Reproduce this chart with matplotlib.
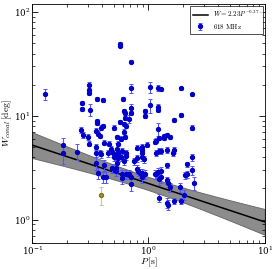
import numpy as np
import matplotlib
matplotlib.use("Agg")
import matplotlib.pyplot as plt

plt.rcParams['mathtext.fontset'] = 'cm'
plt.rcParams['font.family'] = 'serif'
plt.rcParams['font.serif'] = ['DejaVu Serif']

# Data (618 MHz)
period = [0.129, 0.270, 0.270, 0.310, 0.310, 0.310, 0.316, 0.363, 0.409, 0.574,
          0.574, 0.713, 0.713, 0.608, 1.04, 1.20, 1.29, 1.89, 2.39, 0.621,
          0.634, 0.713, 0.713, 0.925, 0.925, 1.04, 1.20, 1.20, 1.67, 1.89,
          2.39, 1.20, 0.509, 0.574, 0.621, 0.646, 0.621, 0.363, 0.363, 0.394,
          0.409, 0.356, 0.371, 0.264, 0.275, 0.304, 0.634, 0.686, 0.541, 0.585,
          0.634, 0.551, 0.461, 0.379, 0.418, 0.310, 0.356, 0.541, 0.789, 0.871,
          0.888, 0.979, 1.13, 1.17, 1.24, 1.35, 1.35, 1.43, 1.52, 1.43,
          1.67, 1.24, 1.29, 0.182, 0.182, 0.244, 0.356, 0.379, 0.394, 0.444,
          0.551, 0.646, 0.888, 1.17, 0.509, 0.530, 0.585, 0.646, 0.871, 0.906,
          0.356, 0.418, 0.541, 0.371, 0.409, 0.435, 1.43, 1.64, 2.13, 2.08,
          2.13, 2.39, 2.39, 2.44, 0.490, 0.530, 0.530, 0.597, 0.597, 0.646,
          0.686, 0.713, 0.789, 0.820, 0.853, 0.888, 0.925, 0.888, 1.13, 1.17,
          1.20, 1.27, 1.29, 1.22, 1.43, 1.46, 1.52, 1.85, 2.04, 1.24,
          1.43, 1.46, 1.67, 1.89, 0.713, 0.804, 0.757, 0.621, 0.551, 0.480,
          0.499, 0.597]
width = [16.2, 13.3, 11.7, 19.7, 17.7, 16.6, 11.4, 14.5, 14.2, 49.6,
         47.4, 33.4, 18.5, 14.5, 18.9, 18.5, 18.1, 18.5, 16.2, 11.2,
         10.7, 11.9, 10.7, 11.2, 10.0, 12.7, 12.2, 11.4, 9.16, 10.2,
         7.69, 7.52, 7.69, 8.77, 8.39, 8.03, 7.04, 8.96, 8.58, 7.69,
         8.03, 7.20, 6.74, 7.36, 6.59, 6.31, 9.57, 9.37, 6.31, 6.04,
         6.31, 5.41, 5.41, 6.45, 5.53, 5.41, 5.07, 4.85, 4.96, 5.07,
         4.74, 5.29, 5.65, 5.78, 6.17, 6.45, 6.17, 6.59, 6.31, 4.74,
         4.74, 4.64, 4.64, 5.29, 4.35, 4.54, 4.35, 4.44, 4.25, 4.35,
         4.44, 4.35, 4.44, 4.44, 3.98, 4.07, 3.98, 4.07, 3.98, 3.81,
         3.49, 3.34, 3.49, 2.80, 2.57, 2.57, 3.34, 4.35, 3.41, 2.68,
         2.74, 3.98, 2.99, 2.25, 3.13, 3.13, 2.93, 2.74, 2.51, 2.74,
         2.74, 2.20, 3.06, 2.93, 2.80, 2.80, 2.74, 2.57, 2.74, 2.74,
         2.87, 2.93, 2.57, 2.46, 2.40, 2.25, 2.06, 2.06, 1.73, 1.62,
         1.45, 1.39, 1.52, 1.52, 2.57, 3.89, 3.65, 3.65, 3.89, 4.85,
         4.35, 4.64]
width_err = [1.8, 0.6, 0.5, 1.5, 0.8, 0.8, 1.5, 0.7, 0.6, 1.5,
             1.5, 1.0, 2.0, 0.6, 2.2, 1.2, 0.6, 0.6, 0.6, 0.5,
             0.5, 1.2, 0.5, 0.5, 0.5, 2.0, 0.8, 0.5, 0.4, 0.4,
             0.4, 1.1, 0.4, 0.4, 0.4, 0.4, 0.4, 0.4, 0.4, 0.4,
             0.4, 0.4, 0.4, 0.5, 0.4, 0.4, 0.4, 0.8, 0.3, 0.3,
             0.3, 0.3, 0.3, 0.3, 0.3, 0.3, 0.3, 0.6, 0.3, 0.3,
             0.3, 0.3, 0.3, 0.3, 0.3, 0.3, 0.3, 0.3, 0.3, 0.3,
             0.3, 0.3, 0.3, 0.85, 0.9, 0.8, 0.3, 0.3, 0.3, 0.3,
             0.3, 0.3, 0.3, 0.3, 0.3, 0.3, 0.3, 0.3, 0.3, 0.3,
             0.5, 0.4, 0.3, 0.35, 0.3, 0.3, 0.2, 0.2, 0.2, 0.2,
             0.2, 0.3, 0.3, 0.3, 0.3, 0.3, 0.3, 0.3, 0.3, 0.3,
             0.3, 0.3, 0.3, 0.3, 0.3, 0.3, 0.3, 0.3, 0.3, 0.3,
             0.3, 0.3, 0.3, 0.3, 0.2, 0.2, 0.2, 0.2, 0.2, 0.15,
             0.15, 0.15, 0.1, 0.1, 0.3, 0.3, 0.3, 0.3, 0.3, 0.3,
             0.3, 0.3]

# Outlier point (different colour)
odd_period = [0.394]
odd_width = [1.73]
odd_err = [0.35]

# Fit W = A * P^B
fit_A = 2.23
fit_B = -0.37
band_c = 0.064   # log10 half-width at P=1
band_s = 0.107   # growth with log10 P

fig = plt.figure(figsize=(2.76, 2.69), dpi=100)
ax = fig.add_axes([0.117, 0.098, 0.842, 0.887])

xf = np.logspace(-1, 1, 200)
lx = np.log10(xf)
ly = np.log10(fit_A) + fit_B * lx
hw = np.sqrt(band_c**2 + (band_s * lx)**2)
ax.fill_between(xf, 10**(ly - hw), 10**(ly + hw), color='0.5', alpha=0.9,
                linewidth=0.6, edgecolor='0.35', zorder=1)
ax.plot(xf, 10**ly, color='black', lw=1.1, zorder=2,
        label=r'$W = 2.23P^{-0.37}$')

ax.errorbar(period, width, yerr=width_err, fmt='o', ms=2.8, mfc='#0000c8',
            mec='#0000c8', ecolor='#5555ff', elinewidth=0.8, capsize=1.5,
            capthick=0.7, zorder=3, label=r'$618\ \mathrm{MHz}$')
ax.errorbar(odd_period, odd_width, yerr=odd_err, fmt='o', ms=2.8, mfc='#b0a020',
            mec='#807010', ecolor='#c8c8a0', elinewidth=0.8, capsize=1.5,
            capthick=0.7, zorder=3)

ax.set_xscale('log')
ax.set_yscale('log')
ax.set_xlim(0.1, 10)
ax.set_ylim(0.6, 120)

ax.tick_params(which='both', direction='in', top=True, right=True, labelsize=6.2,
               pad=1.5)
ax.tick_params(which='major', length=4, width=0.6)
ax.tick_params(which='minor', length=2, width=0.5)
for s in ax.spines.values():
    s.set_linewidth(0.6)

ax.set_xlabel(r'$P\,[\mathrm{s}]$', fontsize=7, labelpad=-1)
ax.set_ylabel(r'$W_{conal}\,[\mathrm{deg}]$', fontsize=7, labelpad=-0.5)

leg = ax.legend(loc='upper right', fontsize=5, frameon=True, fancybox=False,
                edgecolor='black', borderaxespad=0.3, handlelength=2.2,
                borderpad=0.4, labelspacing=0.4)
leg.get_frame().set_linewidth(0.6)

fig.savefig('out.png', dpi=100)
